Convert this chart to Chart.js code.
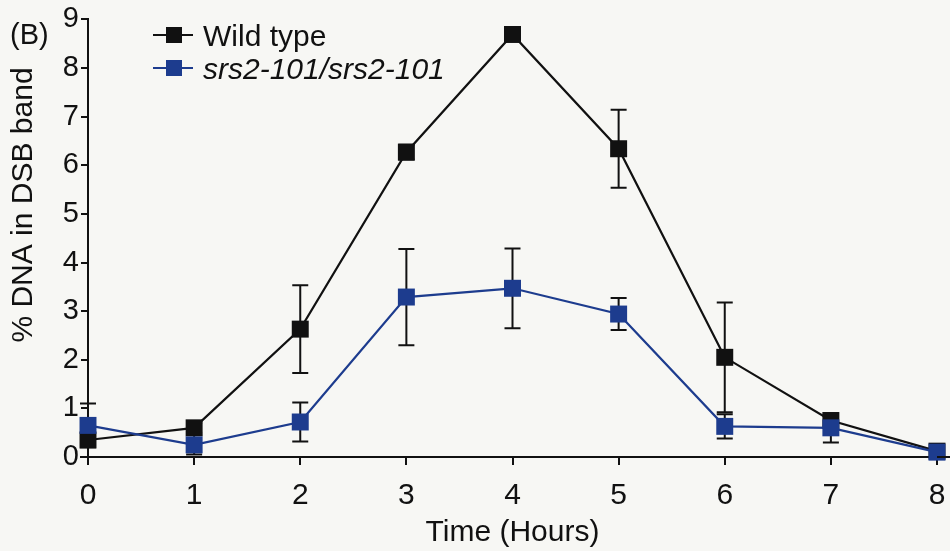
<!DOCTYPE html>
<html>
<head>
<meta charset="utf-8">
<script src="https://cdn.jsdelivr.net/npm/chart.js@4"></script>
<style>
  html, body { margin: 0; padding: 0; background: #f7f7f4; }
  #wrap { width: 950px; height: 551px; }
</style>
</head>
<body>
<div id="wrap"><canvas id="dsbChart" width="950" height="551"></canvas></div>
<script>
// time course of DSB band, mean +/- error
const hours = [0, 1, 2, 3, 4, 5, 6, 7, 8];
const wildType = [0.35, 0.6, 2.63, 6.27, 8.69, 6.34, 2.05, 0.75, 0.12];
const wildTypeErr = [0.35, 0.1, 0.9, 0.15, 0.1, 0.8, 1.13, 0.12, 0.05];
const srs2 = [0.65, 0.25, 0.72, 3.29, 3.47, 2.94, 0.63, 0.6, 0.1];
const srs2Err = [0.45, 0.2, 0.4, 0.99, 0.82, 0.33, 0.25, 0.3, 0.05];
const seriesNames = ["Wild type", "srs2-101/srs2-101"];

const FONT = '"Liberation Sans", Arial, sans-serif';
const INK = "#111111";
const BLUE = "#1d3c8e";

function toPoints(ys) {
  return hours.map((h, i) => ({ x: h, y: ys[i] }));
}

// vertical error bars with caps, drawn under the markers
const errorBars = {
  id: "errorBars",
  beforeDatasetsDraw(chart) {
    const { ctx, scales: { x, y } } = chart;
    ctx.save();
    ctx.strokeStyle = INK;
    ctx.lineWidth = 2;
    chart.data.datasets.forEach((ds) => {
      ds.data.forEach((p, i) => {
        const e = ds.errors[i];
        const px = x.getPixelForValue(p.x);
        const top = y.getPixelForValue(p.y + e);
        const bot = y.getPixelForValue(Math.max(p.y - e, 0));
        ctx.beginPath();
        ctx.moveTo(px, top);
        ctx.lineTo(px, bot);
        ctx.moveTo(px - 8, top);
        ctx.lineTo(px + 8, top);
        ctx.moveTo(px - 8, bot);
        ctx.lineTo(px + 8, bot);
        ctx.stroke();
      });
    });
    ctx.restore();
  },
};

// panel letter, y title, legend and the x axis running to the edge
const decorations = {
  id: "decorations",
  afterDraw(chart) {
    const { ctx, chartArea } = chart;
    ctx.save();
    ctx.fillStyle = INK;
    ctx.strokeStyle = INK;

    ctx.lineWidth = 2;
    ctx.beginPath();
    ctx.moveTo(chartArea.right, chartArea.bottom);
    ctx.lineTo(chart.width, chartArea.bottom);
    ctx.stroke();

    ctx.font = "29px " + FONT;
    ctx.textAlign = "left";
    ctx.textBaseline = "alphabetic";
    ctx.fillText("(B)", 10, 44);

    ctx.save();
    ctx.translate(24, 205);
    ctx.rotate(-Math.PI / 2);
    ctx.textAlign = "center";
    ctx.textBaseline = "middle";
    ctx.font = "30px " + FONT;
    ctx.fillText("% DNA in DSB band", 0, 0);
    ctx.restore();

    chart.data.datasets.forEach((ds, i) => {
      const ly = 35 + i * 33;
      ctx.strokeStyle = ds.borderColor;
      ctx.lineWidth = 2.2;
      ctx.beginPath();
      ctx.moveTo(153, ly);
      ctx.lineTo(193, ly);
      ctx.stroke();
      ctx.fillStyle = ds.pointBackgroundColor;
      ctx.fillRect(166, ly - 8, 16, 16);
      ctx.fillStyle = INK;
      ctx.font = (i === 1 ? "italic " : "") + "30px " + FONT;
      ctx.textAlign = "left";
      ctx.textBaseline = "alphabetic";
      ctx.fillText(ds.label, 203, ly + 11);
    });
    ctx.restore();
  },
};

new Chart(document.getElementById("dsbChart"), {
  type: "line",
  data: {
    datasets: [
      {
        label: seriesNames[0],
        data: toPoints(wildType),
        errors: wildTypeErr,
        borderColor: INK,
        pointBackgroundColor: INK,
        pointBorderColor: INK,
        order: 1,
      },
      {
        label: seriesNames[1],
        data: toPoints(srs2),
        errors: srs2Err,
        borderColor: BLUE,
        pointBackgroundColor: BLUE,
        pointBorderColor: BLUE,
        order: 0,
      },
    ],
  },
  options: {
    responsive: false,
    animation: false,
    layout: { padding: { top: 17, right: 13, left: 0, bottom: 0 } },
    elements: {
      line: { borderWidth: 2.2, tension: 0, fill: false },
      point: { pointStyle: "rect", radius: 12, borderWidth: 0 },
    },
    datasets: { line: { clip: false } },
    plugins: {
      legend: { display: false },
      tooltip: { enabled: false },
    },
    scales: {
      x: {
        type: "linear",
        min: 0,
        max: 8,
        afterFit: (s) => {
          s.height = 94;
          s.paddingLeft = 0;
          s.paddingRight = 0;
        },
        border: { display: true, color: INK, width: 2 },
        grid: { drawOnChartArea: false, drawTicks: true, tickLength: 8, color: INK, lineWidth: 2 },
        ticks: { stepSize: 1, padding: 13, color: INK, font: { family: FONT, size: 30 } },
        title: {
          display: true,
          text: "Time (Hours)",
          color: INK,
          font: { family: FONT, size: 30 },
          padding: { top: 0, bottom: 0 },
        },
      },
      y: {
        min: 0,
        max: 9,
        afterFit: (s) => { s.width = 88; },
        border: { display: true, color: INK, width: 2 },
        grid: { drawOnChartArea: false, drawTicks: true, tickLength: 7, color: INK, lineWidth: 2 },
        ticks: { stepSize: 1, padding: 2, color: INK, font: { family: FONT, size: 29 } },
      },
    },
  },
  plugins: [errorBars, decorations],
});
</script>
</body>
</html>
